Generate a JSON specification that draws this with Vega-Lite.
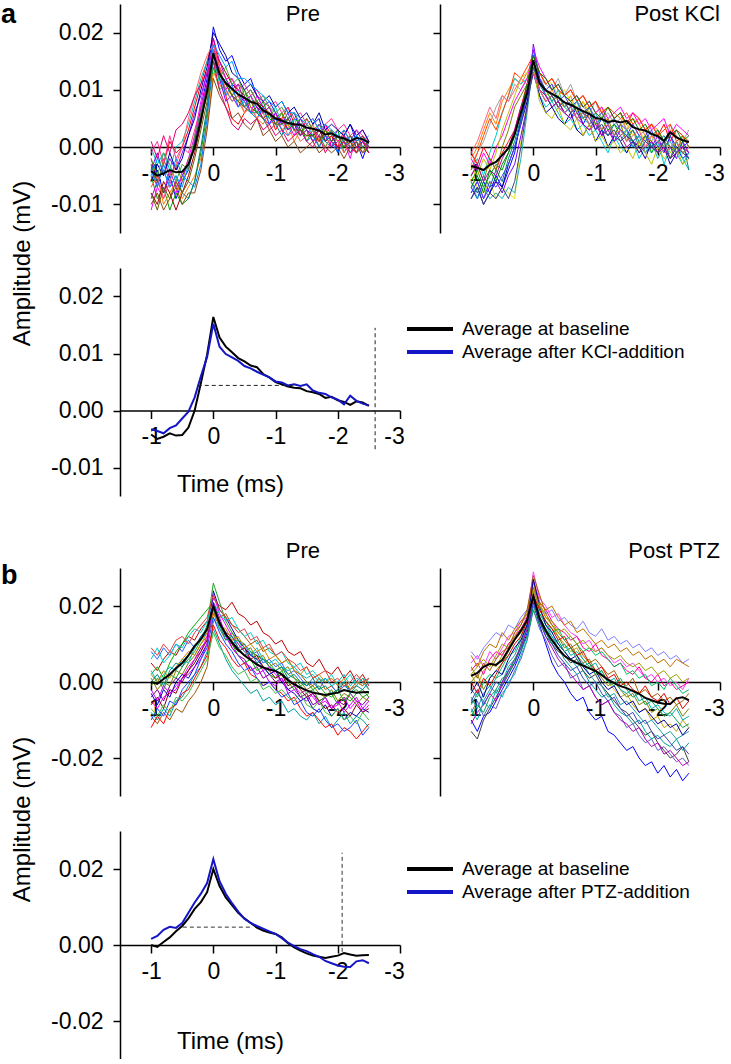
{
"$schema":"https://vega.github.io/schema/vega-lite/v6.json",
"background":"white",
"padding":{"left":0,"top":0,"right":0,"bottom":0},
"columns":2,
"spacing":{"row":35,"column":40},
"bounds":"flush",
"align":"each",
"resolve":{"scale":{"color":"independent"},"legend":{"color":"independent"}},
"config":{"font":"Liberation Sans","view":{"stroke":null},
"axis":{"domainColor":"#000","domainWidth":1.5,"tickColor":"#000","tickWidth":1.5,"labelColor":"#000","labelFontSize":23,"labelFont":"Liberation Sans","titleColor":"#000","titleFont":"Liberation Sans","titleFontWeight":"normal","grid":false},
"text":{"color":"#000"}},
"datasets":{
"A":[
{"x":-1,"p1":-0.002,"p2":-0.006,"p3":-0.005,"p4":-0.011,"p5":0,"p6":-0.007,"p7":-0.003,"p8":-0.004,"p9":-0.008,"p10":-0.003,"p11":-0.001,"p12":-0.006,"p13":-0.009,"p14":-0.004,"p15":-0.007,"p16":-0.002,"p17":-0.010,"p18":-0.005,"p19":0.001,"p20":-0.008,"pa":-0.0042,"q1":-0.002,"q2":-0.007,"q3":-0.005,"q4":-0.004,"q5":-0.006,"q6":-0.003,"q7":-0.001,"q8":-0.008,"q9":-0.005,"q10":-0.009,"q11":-0.002,"q12":-0.006,"q13":-0.004,"q14":-0.008,"q15":-0.006,"q16":-0.003,"q17":-0.005,"q18":-0.007,"q19":-0.001,"q20":-0.009,"qa":-0.0033},
{"x":-0.9,"p1":-0.006,"p2":-0.004,"p3":-0.009,"p4":-0.007,"p5":-0.003,"p6":-0.005,"p7":-0.007,"p8":-0.001,"p9":-0.010,"p10":-0.006,"p11":0.001,"p12":-0.003,"p13":-0.006,"p14":-0.007,"p15":-0.005,"p16":-0.005,"p17":-0.008,"p18":-0.002,"p19":-0.002,"p20":-0.011,"pa":-0.0050,"q1":0,"q2":-0.009,"q3":-0.007,"q4":-0.002,"q5":-0.004,"q6":-0.001,"q7":-0.003,"q8":-0.006,"q9":-0.003,"q10":-0.007,"q11":-0.004,"q12":-0.008,"q13":-0.001,"q14":-0.006,"q15":-0.009,"q16":-0.005,"q17":-0.003,"q18":-0.005,"q19":0.001,"q20":-0.007,"qa":-0.0036},
{"x":-0.8,"p1":-0.003,"p2":-0.008,"p3":-0.007,"p4":-0.009,"p5":-0.001,"p6":-0.010,"p7":-0.002,"p8":-0.005,"p9":-0.006,"p10":-0.004,"p11":-0.003,"p12":-0.005,"p13":-0.008,"p14":-0.003,"p15":-0.009,"p16":-0.001,"p17":-0.011,"p18":-0.004,"p19":0.002,"p20":-0.007,"pa":-0.0046,"q1":0.003,"q2":-0.006,"q3":-0.008,"q4":-0.005,"q5":-0.007,"q6":0.001,"q7":0,"q8":-0.009,"q9":-0.006,"q10":-0.010,"q11":-0.001,"q12":-0.005,"q13":0.002,"q14":-0.009,"q15":-0.007,"q16":-0.002,"q17":-0.006,"q18":-0.008,"q19":0.004,"q20":-0.010,"qa":-0.0040},
{"x":-0.7,"p1":0.001,"p2":-0.005,"p3":-0.011,"p4":-0.006,"p5":-0.004,"p6":-0.008,"p7":-0.005,"p8":-0.002,"p9":-0.008,"p10":-0.007,"p11":0.002,"p12":-0.001,"p13":-0.004,"p14":-0.006,"p15":-0.006,"p16":-0.003,"p17":-0.009,"p18":-0.007,"p19":-0.001,"p20":-0.009,"pa":-0.0040,"q1":0.006,"q2":-0.008,"q3":-0.006,"q4":-0.001,"q5":-0.005,"q6":0.004,"q7":-0.002,"q8":-0.007,"q9":-0.002,"q10":-0.008,"q11":-0.003,"q12":-0.007,"q13":0.005,"q14":-0.006,"q15":-0.009,"q16":-0.004,"q17":-0.004,"q18":-0.004,"q19":0.007,"q20":-0.008,"qa":-0.0031},
{"x":-0.6,"p1":-0.001,"p2":-0.009,"p3":-0.008,"p4":-0.008,"p5":0,"p6":-0.006,"p7":-0.003,"p8":-0.004,"p9":-0.011,"p10":-0.005,"p11":-0.002,"p12":-0.004,"p13":-0.007,"p14":-0.002,"p15":-0.003,"p16":-0.006,"p17":-0.007,"p18":-0.005,"p19":0.003,"p20":-0.006,"pa":-0.0044,"q1":0.004,"q2":-0.005,"q3":-0.009,"q4":0.002,"q5":-0.003,"q6":0.007,"q7":-0.004,"q8":-0.006,"q9":-0.004,"q10":-0.006,"q11":0,"q12":-0.004,"q13":0.003,"q14":-0.007,"q15":-0.008,"q16":-0.001,"q17":-0.005,"q18":-0.006,"q19":0.005,"q20":-0.009,"qa":-0.0026},
{"x":-0.5,"p1":0,"p2":-0.006,"p3":-0.010,"p4":-0.005,"p5":0.001,"p6":-0.009,"p7":-0.006,"p8":-0.001,"p9":-0.008,"p10":-0.008,"p11":0,"p12":-0.002,"p13":-0.005,"p14":-0.005,"p15":0,"p16":-0.003,"p17":-0.010,"p18":-0.007,"p19":0.004,"p20":-0.008,"pa":-0.0043,"q1":0.008,"q2":-0.007,"q3":-0.007,"q4":0.006,"q5":-0.004,"q6":0.009,"q7":-0.001,"q8":-0.008,"q9":0,"q10":-0.007,"q11":0.002,"q12":-0.006,"q13":0.006,"q14":-0.005,"q15":-0.009,"q16":0.003,"q17":-0.002,"q18":-0.003,"q19":0.009,"q20":-0.007,"qa":-0.0014},
{"x":-0.4,"p1":0.003,"p2":-0.004,"p3":-0.009,"p4":-0.002,"p5":0.004,"p6":-0.007,"p7":-0.002,"p8":0.002,"p9":-0.005,"p10":-0.009,"p11":-0.001,"p12":0.002,"p13":-0.003,"p14":-0.006,"p15":0.005,"p16":-0.004,"p17":-0.008,"p18":-0.003,"p19":0.006,"p20":-0.006,"pa":-0.0030,"q1":0.010,"q2":-0.004,"q3":-0.008,"q4":0.009,"q5":-0.001,"q6":0.008,"q7":0.001,"q8":-0.005,"q9":0.003,"q10":-0.003,"q11":0.005,"q12":-0.002,"q13":0.009,"q14":-0.003,"q15":-0.007,"q16":0.006,"q17":0,"q18":-0.001,"q19":0.008,"q20":-0.009,"qa":-0.0002},
{"x":-0.3,"p1":0.007,"p2":0.001,"p3":-0.006,"p4":0.002,"p5":0.008,"p6":-0.005,"p7":0,"p8":0.006,"p9":-0.001,"p10":-0.006,"p11":0.003,"p12":0.005,"p13":0.001,"p14":-0.007,"p15":0.009,"p16":0.002,"p17":-0.008,"p18":0,"p19":0.009,"p20":-0.002,"pa":0.0000,"q1":0.012,"q2":-0.001,"q3":-0.009,"q4":0.012,"q5":0.002,"q6":0.011,"q7":0.003,"q8":-0.003,"q9":0.007,"q10":0,"q11":0.008,"q12":0.001,"q13":0.013,"q14":0,"q15":-0.008,"q16":0.009,"q17":0.003,"q18":0.002,"q19":0.010,"q20":-0.006,"qa":0.0023},
{"x":-0.2,"p1":0.011,"p2":0.007,"p3":-0.001,"p4":0.008,"p5":0.012,"p6":-0.002,"p7":0.005,"p8":0.009,"p9":0.004,"p10":0,"p11":0.007,"p12":0.010,"p13":0.006,"p14":-0.003,"p15":0.013,"p16":0.006,"p17":-0.004,"p18":0.005,"p19":0.011,"p20":0.003,"pa":0.0048,"q1":0.011,"q2":0.005,"q3":0.001,"q4":0.011,"q5":0.006,"q6":0.010,"q7":0.007,"q8":0.002,"q9":0.009,"q10":0.004,"q11":0.010,"q12":0.005,"q13":0.012,"q14":0.004,"q15":-0.002,"q16":0.012,"q17":0.007,"q18":0.006,"q19":0.012,"q20":0,"qa":0.0060},
{"x":-0.1,"p1":0.015,"p2":0.012,"p3":0.006,"p4":0.013,"p5":0.015,"p6":0.004,"p7":0.009,"p8":0.013,"p9":0.010,"p10":0.007,"p11":0.011,"p12":0.014,"p13":0.011,"p14":0.005,"p15":0.016,"p16":0.010,"p17":0.003,"p18":0.010,"p19":0.013,"p20":0.008,"pa":0.0098,"q1":0.013,"q2":0.009,"q3":0.008,"q4":0.012,"q5":0.010,"q6":0.012,"q7":0.011,"q8":0.007,"q9":0.011,"q10":0.008,"q11":0.012,"q12":0.010,"q13":0.014,"q14":0.009,"q15":0.006,"q16":0.013,"q17":0.010,"q18":0.011,"q19":0.011,"q20":0.007,"qa":0.0094},
{"x":0,"p1":0.019,"p2":0.021,"p3":0.014,"p4":0.018,"p5":0.017,"p6":0.013,"p7":0.015,"p8":0.016,"p9":0.017,"p10":0.015,"p11":0.017,"p12":0.020,"p13":0.019,"p14":0.016,"p15":0.018,"p16":0.014,"p17":0.012,"p18":0.018,"p19":0.015,"p20":0.016,"pa":0.0164,"q1":0.015,"q2":0.014,"q3":0.016,"q4":0.014,"q5":0.015,"q6":0.014,"q7":0.016,"q8":0.018,"q9":0.015,"q10":0.013,"q11":0.017,"q12":0.015,"q13":0.016,"q14":0.017,"q15":0.015,"q16":0.014,"q17":0.013,"q18":0.016,"q19":0.013,"q20":0.014,"qa":0.0152},
{"x":0.1,"p1":0.014,"p2":0.017,"p3":0.010,"p4":0.013,"p5":0.011,"p6":0.011,"p7":0.013,"p8":0.012,"p9":0.015,"p10":0.012,"p11":0.014,"p12":0.018,"p13":0.015,"p14":0.013,"p15":0.014,"p16":0.012,"p17":0.009,"p18":0.016,"p19":0.010,"p20":0.013,"pa":0.0128,"q1":0.011,"q2":0.010,"q3":0.013,"q4":0.009,"q5":0.012,"q6":0.012,"q7":0.013,"q8":0.012,"q9":0.010,"q10":0.009,"q11":0.014,"q12":0.011,"q13":0.013,"q14":0.012,"q15":0.011,"q16":0.008,"q17":0.010,"q18":0.013,"q19":0.010,"q20":0.011,"qa":0.0112},
{"x":0.2,"p1":0.009,"p2":0.015,"p3":0.011,"p4":0.010,"p5":0.012,"p6":0.009,"p7":0.011,"p8":0.008,"p9":0.013,"p10":0.010,"p11":0.012,"p12":0.016,"p13":0.012,"p14":0.009,"p15":0.010,"p16":0.014,"p17":0.007,"p18":0.014,"p19":0.007,"p20":0.011,"pa":0.0112,"q1":0.009,"q2":0.008,"q3":0.012,"q4":0.007,"q5":0.010,"q6":0.011,"q7":0.011,"q8":0.009,"q9":0.008,"q10":0.006,"q11":0.012,"q12":0.009,"q13":0.011,"q14":0.010,"q15":0.009,"q16":0.006,"q17":0.009,"q18":0.012,"q19":0.008,"q20":0.010,"qa":0.0099},
{"x":0.3,"p1":0.005,"p2":0.016,"p3":0.009,"p4":0.012,"p5":0.009,"p6":0.010,"p7":0.009,"p8":0.009,"p9":0.011,"p10":0.008,"p11":0.012,"p12":0.013,"p13":0.010,"p14":0.011,"p15":0.008,"p16":0.011,"p17":0.005,"p18":0.015,"p19":0.004,"p20":0.009,"pa":0.0102,"q1":0.010,"q2":0.009,"q3":0.011,"q4":0.008,"q5":0.008,"q6":0.010,"q7":0.012,"q8":0.007,"q9":0.009,"q10":0.007,"q11":0.010,"q12":0.007,"q13":0.012,"q14":0.011,"q15":0.008,"q16":0.005,"q17":0.007,"q18":0.010,"q19":0.009,"q20":0.009,"qa":0.0093},
{"x":0.4,"p1":0.004,"p2":0.013,"p3":0.008,"p4":0.009,"p5":0.010,"p6":0.008,"p7":0.011,"p8":0.007,"p9":0.010,"p10":0.009,"p11":0.010,"p12":0.012,"p13":0.011,"p14":0.007,"p15":0.009,"p16":0.012,"p17":0.006,"p18":0.012,"p19":0.003,"p20":0.008,"pa":0.0092,"q1":0.008,"q2":0.007,"q3":0.009,"q4":0.006,"q5":0.009,"q6":0.012,"q7":0.010,"q8":0.008,"q9":0.007,"q10":0.005,"q11":0.011,"q12":0.008,"q13":0.010,"q14":0.008,"q15":0.010,"q16":0.007,"q17":0.008,"q18":0.011,"q19":0.007,"q20":0.007,"qa":0.0087},
{"x":0.5,"p1":0.006,"p2":0.011,"p3":0.010,"p4":0.008,"p5":0.007,"p6":0.006,"p7":0.010,"p8":0.009,"p9":0.009,"p10":0.007,"p11":0.011,"p12":0.010,"p13":0.008,"p14":0.008,"p15":0.006,"p16":0.009,"p17":0.004,"p18":0.012,"p19":0.005,"p20":0.007,"pa":0.0086,"q1":0.007,"q2":0.006,"q3":0.010,"q4":0.004,"q5":0.007,"q6":0.009,"q7":0.009,"q8":0.006,"q9":0.008,"q10":0.004,"q11":0.009,"q12":0.006,"q13":0.009,"q14":0.009,"q15":0.007,"q16":0.004,"q17":0.006,"q18":0.009,"q19":0.006,"q20":0.008,"qa":0.0078},
{"x":0.6,"p1":0.008,"p2":0.012,"p3":0.007,"p4":0.006,"p5":0.009,"p6":0.007,"p7":0.008,"p8":0.006,"p9":0.010,"p10":0.006,"p11":0.009,"p12":0.011,"p13":0.009,"p14":0.006,"p15":0.007,"p16":0.010,"p17":0.003,"p18":0.011,"p19":0.004,"p20":0.008,"pa":0.0079,"q1":0.009,"q2":0.005,"q3":0.008,"q4":0.005,"q5":0.008,"q6":0.011,"q7":0.010,"q8":0.007,"q9":0.006,"q10":0.006,"q11":0.008,"q12":0.007,"q13":0.010,"q14":0.007,"q15":0.006,"q16":0.003,"q17":0.005,"q18":0.008,"q19":0.007,"q20":0.006,"qa":0.0074},
{"x":0.7,"p1":0.007,"p2":0.009,"p3":0.006,"p4":0.009,"p5":0.006,"p6":0.005,"p7":0.008,"p8":0.007,"p9":0.008,"p10":0.006,"p11":0.010,"p12":0.009,"p13":0.007,"p14":0.005,"p15":0.005,"p16":0.008,"p17":0.005,"p18":0.010,"p19":0.005,"p20":0.006,"pa":0.0076,"q1":0.006,"q2":0.007,"q3":0.007,"q4":0.003,"q5":0.006,"q6":0.008,"q7":0.008,"q8":0.005,"q9":0.007,"q10":0.003,"q11":0.009,"q12":0.005,"q13":0.008,"q14":0.008,"q15":0.008,"q16":0.005,"q17":0.006,"q18":0.009,"q19":0.005,"q20":0.007,"qa":0.0068},
{"x":0.8,"p1":0.005,"p2":0.007,"p3":0.008,"p4":0.007,"p5":0.006,"p6":0.004,"p7":0.006,"p8":0.005,"p9":0.007,"p10":0.005,"p11":0.008,"p12":0.008,"p13":0.006,"p14":0.007,"p15":0.006,"p16":0.009,"p17":0.002,"p18":0.009,"p19":0.003,"p20":0.005,"pa":0.0064,"q1":0.008,"q2":0.004,"q3":0.008,"q4":0.004,"q5":0.005,"q6":0.007,"q7":0.009,"q8":0.004,"q9":0.005,"q10":0.002,"q11":0.007,"q12":0.006,"q13":0.009,"q14":0.006,"q15":0.005,"q16":0.002,"q17":0.004,"q18":0.007,"q19":0.006,"q20":0.006,"qa":0.0063},
{"x":0.9,"p1":0.006,"p2":0.008,"p3":0.005,"p4":0.004,"p5":0.005,"p6":0.006,"p7":0.007,"p8":0.004,"p9":0.006,"p10":0.003,"p11":0.007,"p12":0.009,"p13":0.007,"p14":0.004,"p15":0.003,"p16":0.007,"p17":0.003,"p18":0.008,"p19":0.004,"p20":0.006,"pa":0.0058,"q1":0.005,"q2":0.006,"q3":0.006,"q4":0.002,"q5":0.007,"q6":0.006,"q7":0.007,"q8":0.003,"q9":0.006,"q10":0.004,"q11":0.008,"q12":0.004,"q13":0.007,"q14":0.007,"q15":0.004,"q16":0.004,"q17":0.003,"q18":0.008,"q19":0.004,"q20":0.005,"qa":0.0058},
{"x":1,"p1":0.003,"p2":0.006,"p3":0.004,"p4":0.006,"p5":0.007,"p6":0.005,"p7":0.005,"p8":0.006,"p9":0.005,"p10":0.004,"p11":0.008,"p12":0.007,"p13":0.004,"p14":0.005,"p15":0.004,"p16":0.006,"p17":0.001,"p18":0.007,"p19":0.002,"p20":0.004,"pa":0.0050,"q1":0.006,"q2":0.003,"q3":0.005,"q4":0.003,"q5":0.004,"q6":0.008,"q7":0.008,"q8":0.005,"q9":0.004,"q10":0.001,"q11":0.006,"q12":0.005,"q13":0.008,"q14":0.005,"q15":0.006,"q16":0.001,"q17":0.004,"q18":0.006,"q19":0.005,"q20":0.003,"qa":0.0051},
{"x":1.1,"p1":0.005,"p2":0.004,"p3":0.006,"p4":0.003,"p5":0.004,"p6":0.003,"p7":0.006,"p8":0.004,"p9":0.005,"p10":0.002,"p11":0.006,"p12":0.008,"p13":0.005,"p14":0.003,"p15":0.005,"p16":0.007,"p17":0.002,"p18":0.008,"p19":0.003,"p20":0.004,"pa":0.0046,"q1":0.007,"q2":0.005,"q3":0.006,"q4":0.001,"q5":0.005,"q6":0.005,"q7":0.006,"q8":0.002,"q9":0.003,"q10":0.003,"q11":0.007,"q12":0.003,"q13":0.006,"q14":0.006,"q15":0.003,"q16":0.002,"q17":0.002,"q18":0.005,"q19":0.003,"q20":0.004,"qa":0.0049},
{"x":1.2,"p1":0.007,"p2":0.005,"p3":0.003,"p4":0.004,"p5":0.003,"p6":0.004,"p7":0.004,"p8":0.006,"p9":0.003,"p10":0.005,"p11":0.007,"p12":0.006,"p13":0.003,"p14":0.002,"p15":0.002,"p16":0.005,"p17":0,"p18":0.006,"p19":0.001,"p20":0.005,"pa":0.0042,"q1":0.004,"q2":0.004,"q3":0.004,"q4":-0.001,"q5":0.003,"q6":0.006,"q7":0.007,"q8":0.004,"q9":0.005,"q10":0,"q11":0.005,"q12":0.002,"q13":0.007,"q14":0.004,"q15":0.004,"q16":0,"q17":0.003,"q18":0.007,"q19":0.004,"q20":0.002,"qa":0.0044},
{"x":1.3,"p1":0.004,"p2":0.006,"p3":0.005,"p4":0.002,"p5":0.005,"p6":0.001,"p7":0.004,"p8":0.003,"p9":0.004,"p10":0.003,"p11":0.005,"p12":0.007,"p13":0.004,"p14":0.004,"p15":0.003,"p16":0.006,"p17":0.001,"p18":0.006,"p19":0.002,"p20":0.003,"pa":0.0040,"q1":0.005,"q2":0.002,"q3":0.005,"q4":0.002,"q5":0.004,"q6":0.004,"q7":0.005,"q8":0.001,"q9":0.002,"q10":0.002,"q11":0.006,"q12":0.004,"q13":0.006,"q14":0.005,"q15":0.002,"q16":0.001,"q17":0.001,"q18":0.005,"q19":0.002,"q20":0.003,"qa":0.0046},
{"x":1.4,"p1":0.002,"p2":0.003,"p3":0.004,"p4":0.005,"p5":0.002,"p6":0.003,"p7":0.002,"p8":0.005,"p9":0.003,"p10":0.002,"p11":0.006,"p12":0.005,"p13":0.002,"p14":0.003,"p15":0.001,"p16":0.004,"p17":-0.001,"p18":0.005,"p19":0.003,"p20":0.003,"pa":0.0039,"q1":0.006,"q2":0.004,"q3":0.003,"q4":0,"q5":0.002,"q6":0.005,"q7":0.006,"q8":0.003,"q9":0.004,"q10":0.001,"q11":0.007,"q12":0.003,"q13":0.005,"q14":0.003,"q15":0.001,"q16":-0.001,"q17":0.002,"q18":0.006,"q19":0.003,"q20":0.001,"qa":0.0043},
{"x":1.5,"p1":0.005,"p2":0.002,"p3":0.001,"p4":0.003,"p5":0.004,"p6":0.002,"p7":0.004,"p8":0.003,"p9":0.002,"p10":0.003,"p11":0.004,"p12":0.006,"p13":0.003,"p14":0.001,"p15":0.002,"p16":0.005,"p17":0,"p18":0.004,"p19":0.001,"p20":0.002,"pa":0.0034,"q1":0.003,"q2":0.003,"q3":0.004,"q4":-0.001,"q5":0.003,"q6":0.003,"q7":0.004,"q8":0.002,"q9":0.001,"q10":-0.001,"q11":0.005,"q12":0.002,"q13":0.006,"q14":0.002,"q15":0.003,"q16":0,"q17":0,"q18":0.004,"q19":0.001,"q20":0.002,"qa":0.0046},
{"x":1.6,"p1":0.003,"p2":0.004,"p3":0.003,"p4":0.001,"p5":0.002,"p6":0.004,"p7":0.003,"p8":0.002,"p9":0.002,"p10":0.001,"p11":0.005,"p12":0.004,"p13":0.001,"p14":0.002,"p15":0.003,"p16":0.003,"p17":0.001,"p18":0.005,"p19":0,"p20":0.002,"pa":0.0032,"q1":0.005,"q2":0.001,"q3":0.002,"q4":0.001,"q5":0.001,"q6":0.004,"q7":0.006,"q8":0,"q9":0.003,"q10":0.001,"q11":0.006,"q12":0.003,"q13":0.004,"q14":0.004,"q15":0,"q16":-0.002,"q17":0.001,"q18":0.005,"q19":0.002,"q20":0.001,"qa":0.0035},
{"x":1.7,"p1":0.001,"p2":0.005,"p3":0.002,"p4":0.002,"p5":0.003,"p6":0.001,"p7":0,"p8":0.004,"p9":0.003,"p10":0.002,"p11":0.003,"p12":0.006,"p13":0.003,"p14":0,"p15":0.001,"p16":0.004,"p17":-0.001,"p18":0.003,"p19":0.002,"p20":0.001,"pa":0.0029,"q1":0.004,"q2":0.002,"q3":0.003,"q4":-0.002,"q5":0,"q6":0.002,"q7":0.005,"q8":0.001,"q9":0,"q10":0,"q11":0.004,"q12":0.001,"q13":0.005,"q14":0.002,"q15":0.002,"q16":0.001,"q17":-0.001,"q18":0.003,"q19":0.003,"q20":-0.001,"qa":0.0031},
{"x":1.8,"p1":0.004,"p2":0.001,"p3":0,"p4":0.004,"p5":0.001,"p6":0.002,"p7":0.003,"p8":0.002,"p9":0.001,"p10":0.001,"p11":0.004,"p12":0.003,"p13":0.002,"p14":0.002,"p15":0,"p16":0.002,"p17":0,"p18":0.004,"p19":-0.001,"p20":0.003,"pa":0.0022,"q1":0.002,"q2":0.003,"q3":0.001,"q4":0,"q5":0.002,"q6":0.003,"q7":0.003,"q8":-0.001,"q9":0.002,"q10":-0.002,"q11":0.005,"q12":0.002,"q13":0.003,"q14":0.001,"q15":-0.001,"q16":-0.001,"q17":0,"q18":0.004,"q19":0,"q20":0.001,"qa":0.0029},
{"x":1.9,"p1":0.002,"p2":0.003,"p3":0.002,"p4":0,"p5":0.003,"p6":0.003,"p7":0.001,"p8":0.001,"p9":0.002,"p10":0,"p11":0.005,"p12":0.004,"p13":0,"p14":0.001,"p15":0.002,"p16":0.003,"p17":-0.001,"p18":0.003,"p19":0.001,"p20":0.001,"pa":0.0024,"q1":0.004,"q2":0,"q3":0.002,"q4":-0.001,"q5":-0.001,"q6":0.001,"q7":0.004,"q8":0,"q9":0.001,"q10":0.001,"q11":0.003,"q12":0,"q13":0.004,"q14":0.003,"q15":0.001,"q16":-0.003,"q17":0.001,"q18":0.002,"q19":0.002,"q20":0,"qa":0.0023},
{"x":2,"p1":0,"p2":-0.001,"p3":0.003,"p4":0.002,"p5":0.001,"p6":0.001,"p7":0.002,"p8":0.003,"p9":0,"p10":0.002,"p11":0.003,"p12":0.003,"p13":0.001,"p14":-0.001,"p15":0.001,"p16":0.002,"p17":0,"p18":0.002,"p19":0,"p20":0.002,"pa":0.0018,"q1":0.003,"q2":0.001,"q3":0,"q4":0.001,"q5":0.001,"q6":0.003,"q7":0.002,"q8":0.002,"q9":-0.001,"q10":-0.001,"q11":0.004,"q12":0.001,"q13":0.002,"q14":0,"q15":-0.002,"q16":0,"q17":-0.001,"q18":0.003,"q19":0.001,"q20":-0.001,"qa":0.0019},
{"x":2.1,"p1":0.003,"p2":0.002,"p3":-0.001,"p4":0.001,"p5":0,"p6":0.002,"p7":0,"p8":0.002,"p9":0.001,"p10":0.001,"p11":0.004,"p12":0.002,"p13":0.002,"p14":0.001,"p15":-0.001,"p16":0.001,"p17":-0.002,"p18":0.003,"p19":0.001,"p20":0,"pa":0.0015,"q1":0.001,"q2":-0.001,"q3":0.001,"q4":-0.003,"q5":0,"q6":0,"q7":0.004,"q8":-0.001,"q9":0.001,"q10":0,"q11":0.005,"q12":0.002,"q13":0.003,"q14":0.001,"q15":0,"q16":-0.002,"q17":0,"q18":0.001,"q19":-0.001,"q20":0.001,"qa":0.0011},
{"x":2.2,"p1":0.001,"p2":0.004,"p3":0.001,"p4":-0.002,"p5":0.002,"p6":0,"p7":0.002,"p8":0.001,"p9":0.002,"p10":-0.001,"p11":0.002,"p12":0.004,"p13":0,"p14":0,"p15":0.001,"p16":0.002,"p17":0,"p18":0.001,"p19":-0.001,"p20":0.001,"pa":0.0010,"q1":0.003,"q2":0.002,"q3":-0.001,"q4":0,"q5":-0.002,"q6":0.004,"q7":0.001,"q8":0,"q9":0,"q10":-0.003,"q11":0.002,"q12":0,"q13":0.004,"q14":0.002,"q15":0.001,"q16":-0.001,"q17":-0.002,"q18":0.002,"q19":0,"q20":-0.002,"qa":0.0026},
{"x":2.3,"p1":-0.001,"p2":0.001,"p3":0.002,"p4":0.002,"p5":0,"p6":-0.001,"p7":0.001,"p8":0.003,"p9":0,"p10":0.001,"p11":0.003,"p12":0.002,"p13":-0.001,"p14":0.002,"p15":0,"p16":0.001,"p17":0.001,"p18":0.002,"p19":0,"p20":-0.001,"pa":0.0016,"q1":0.002,"q2":0,"q3":0.001,"q4":0.001,"q5":0.001,"q6":0.002,"q7":0.003,"q8":-0.002,"q9":-0.001,"q10":-0.001,"q11":0.004,"q12":-0.001,"q13":0.001,"q14":-0.001,"q15":-0.001,"q16":0,"q17":-0.001,"q18":0.003,"q19":0.001,"q20":0,"qa":0.0017},
{"x":2.4,"p1":0.002,"p2":-0.002,"p3":0,"p4":0.003,"p5":0.001,"p6":0.001,"p7":-0.001,"p8":0.001,"p9":0.001,"p10":0.002,"p11":0.002,"p12":0.003,"p13":0.001,"p14":0,"p15":-0.001,"p16":0,"p17":-0.001,"p18":0.001,"p19":0.001,"p20":0,"pa":0.0014,"q1":0,"q2":-0.002,"q3":-0.001,"q4":-0.002,"q5":-0.001,"q6":0.001,"q7":0.002,"q8":0.001,"q9":0.002,"q10":0,"q11":0.003,"q12":0.001,"q13":0.002,"q14":0,"q15":-0.003,"q16":-0.003,"q17":0,"q18":0.001,"q19":-0.001,"q20":-0.001,"qa":0.0012},
{"x":2.5,"p1":0,"p2":0.001,"p3":-0.001,"p4":0.001,"p5":0.002,"p6":0,"p7":0.001,"p8":0,"p9":-0.001,"p10":0,"p11":0.001,"p12":0.001,"p13":0,"p14":0.001,"p15":0,"p16":0.001,"p17":0,"p18":0.001,"p19":-0.001,"p20":0.001,"pa":0.0008,"q1":0.001,"q2":-0.001,"q3":0,"q4":-0.004,"q5":0,"q6":0.003,"q7":0,"q8":-0.001,"q9":0,"q10":-0.002,"q11":0.002,"q12":-0.004,"q13":0.001,"q14":0.001,"q15":-0.001,"q16":-0.002,"q17":-0.001,"q18":0.002,"q19":0,"q20":-0.002,"qa":0.0009}
],
"B":[
{"x":-1,"r1":0.005,"r2":-0.008,"r3":-0.004,"r4":0.002,"r5":-0.009,"r6":0.008,"r7":-0.012,"r8":0.001,"r9":-0.005,"r10":0.003,"r11":-0.003,"r12":-0.001,"r13":-0.006,"r14":0.006,"r15":-0.010,"r16":0.002,"r17":-0.002,"r18":0.009,"r19":-0.007,"r20":0,"ra":0.0000,"s1":0.008,"s2":-0.010,"s3":0.002,"s4":-0.004,"s5":0.005,"s6":-0.013,"s7":0,"s8":-0.006,"s9":0.003,"s10":-0.008,"s11":0.004,"s12":-0.002,"s13":-0.011,"s14":0.007,"s15":-0.003,"s16":-0.007,"s17":0.002,"s18":-0.005,"s19":0,"s20":-0.009,"sa":0.0016},
{"x":-0.9,"r1":0.003,"r2":-0.010,"r3":-0.002,"r4":0.004,"r5":-0.011,"r6":0.006,"r7":-0.009,"r8":-0.002,"r9":-0.007,"r10":0,"r11":-0.006,"r12":0.001,"r13":-0.004,"r14":0.009,"r15":-0.007,"r16":0,"r17":-0.005,"r18":0.007,"r19":-0.009,"r20":0.002,"ra":-0.0005,"s1":0.006,"s2":-0.013,"s3":-0.001,"s4":-0.007,"s5":0.007,"s6":-0.015,"s7":0.002,"s8":-0.003,"s9":0.005,"s10":-0.005,"s11":0.001,"s12":-0.004,"s13":-0.008,"s14":0.004,"s15":0,"s16":-0.010,"s17":0.004,"s18":-0.002,"s19":-0.003,"s20":-0.006,"sa":0.0024},
{"x":-0.8,"r1":0.006,"r2":-0.007,"r3":-0.005,"r4":0.001,"r5":-0.008,"r6":0.009,"r7":-0.011,"r8":0,"r9":-0.004,"r10":0.002,"r11":-0.002,"r12":-0.002,"r13":-0.007,"r14":0.005,"r15":-0.009,"r16":0.003,"r17":-0.001,"r18":0.010,"r19":-0.006,"r20":-0.001,"ra":0.0008,"s1":0.009,"s2":-0.009,"s3":0.003,"s4":-0.003,"s5":0.004,"s6":-0.010,"s7":-0.002,"s8":-0.005,"s9":0.002,"s10":-0.009,"s11":0.005,"s12":0,"s13":-0.006,"s14":0.008,"s15":-0.004,"s16":-0.005,"s17":0.006,"s18":-0.006,"s19":0.001,"s20":-0.008,"sa":0.0040},
{"x":-0.7,"r1":0.008,"r2":-0.009,"r3":-0.001,"r4":0.005,"r5":-0.010,"r6":0.007,"r7":-0.007,"r8":-0.001,"r9":-0.003,"r10":0.004,"r11":-0.004,"r12":0.002,"r13":-0.002,"r14":0.007,"r15":-0.005,"r16":0.001,"r17":-0.003,"r18":0.008,"r19":-0.008,"r20":0.003,"ra":0.0020,"s1":0.011,"s2":-0.008,"s3":0.005,"s4":-0.001,"s5":0.008,"s6":-0.007,"s7":0.001,"s8":-0.002,"s9":0.006,"s10":-0.006,"s11":0.003,"s12":0.002,"s13":-0.003,"s14":0.010,"s15":0.001,"s16":-0.007,"s17":0.004,"s18":-0.003,"s19":-0.001,"s20":-0.004,"sa":0.0048},
{"x":-0.6,"r1":0.007,"r2":-0.005,"r3":0.001,"r4":0.008,"r5":-0.007,"r6":0.010,"r7":-0.006,"r8":0.003,"r9":-0.001,"r10":0.003,"r11":0,"r12":0.001,"r13":-0.003,"r14":0.010,"r15":-0.006,"r16":0.004,"r17":-0.002,"r18":0.011,"r19":-0.004,"r20":0.005,"ra":0.0036,"s1":0.013,"s2":-0.005,"s3":0.004,"s4":-0.003,"s5":0.006,"s6":-0.004,"s7":0.003,"s8":0.001,"s9":0.008,"s10":-0.007,"s11":0.006,"s12":0.001,"s13":-0.005,"s14":0.009,"s15":0.003,"s16":-0.002,"s17":0.007,"s18":0,"s19":0.002,"s20":-0.002,"sa":0.0045},
{"x":-0.5,"r1":0.010,"r2":-0.004,"r3":0,"r4":0.010,"r5":-0.008,"r6":0.008,"r7":-0.003,"r8":0.002,"r9":0.001,"r10":0.006,"r11":0.002,"r12":0.004,"r13":0.001,"r14":0.009,"r15":-0.002,"r16":0.006,"r17":0.001,"r18":0.012,"r19":-0.005,"r20":0.004,"ra":0.0050,"s1":0.012,"s2":-0.002,"s3":0.007,"s4":0,"s5":0.009,"s6":-0.001,"s7":0.005,"s8":0.002,"s9":0.007,"s10":-0.003,"s11":0.008,"s12":0.004,"s13":0,"s14":0.013,"s15":0.002,"s16":-0.004,"s17":0.010,"s18":-0.001,"s19":0.005,"s20":0.001,"sa":0.0058},
{"x":-0.4,"r1":0.012,"r2":-0.001,"r3":0.003,"r4":0.013,"r5":-0.005,"r6":0.011,"r7":-0.002,"r8":0.005,"r9":0.004,"r10":0.005,"r11":0.001,"r12":0.006,"r13":0.003,"r14":0.012,"r15":0,"r16":0.008,"r17":0.002,"r18":0.010,"r19":-0.003,"r20":0.007,"ra":0.0070,"s1":0.015,"s2":0.001,"s3":0.010,"s4":0.004,"s5":0.012,"s6":0.002,"s7":0.008,"s8":0.005,"s9":0.010,"s10":-0.001,"s11":0.009,"s12":0.007,"s13":0.003,"s14":0.011,"s15":0.006,"s16":0,"s17":0.009,"s18":0.003,"s19":0.007,"s20":0.002,"sa":0.0085},
{"x":-0.3,"r1":0.011,"r2":0.002,"r3":0.006,"r4":0.015,"r5":-0.003,"r6":0.009,"r7":0.001,"r8":0.007,"r9":0.006,"r10":0.009,"r11":0.004,"r12":0.008,"r13":0.005,"r14":0.014,"r15":0.002,"r16":0.007,"r17":0.004,"r18":0.013,"r19":0,"r20":0.009,"ra":0.0095,"s1":0.014,"s2":0.004,"s3":0.012,"s4":0.006,"s5":0.013,"s6":0.005,"s7":0.011,"s8":0.007,"s9":0.012,"s10":0.003,"s11":0.013,"s12":0.008,"s13":0.006,"s14":0.014,"s15":0.009,"s16":0.002,"s17":0.012,"s18":0.005,"s19":0.010,"s20":0.006,"sa":0.0112},
{"x":-0.2,"r1":0.014,"r2":0.004,"r3":0.009,"r4":0.017,"r5":0,"r6":0.012,"r7":0.004,"r8":0.010,"r9":0.008,"r10":0.011,"r11":0.007,"r12":0.011,"r13":0.008,"r14":0.013,"r15":0.006,"r16":0.010,"r17":0.006,"r18":0.015,"r19":0.003,"r20":0.012,"ra":0.0113,"s1":0.017,"s2":0.008,"s3":0.015,"s4":0.009,"s5":0.016,"s6":0.010,"s7":0.013,"s8":0.011,"s9":0.014,"s10":0.006,"s11":0.015,"s12":0.012,"s13":0.009,"s14":0.016,"s15":0.011,"s16":0.007,"s17":0.013,"s18":0.009,"s19":0.012,"s20":0.008,"sa":0.0135},
{"x":-0.1,"r1":0.016,"r2":0.008,"r3":0.011,"r4":0.019,"r5":0.004,"r6":0.014,"r7":0.007,"r8":0.012,"r9":0.012,"r10":0.013,"r11":0.010,"r12":0.015,"r13":0.011,"r14":0.016,"r15":0.009,"r16":0.013,"r17":0.010,"r18":0.017,"r19":0.006,"r20":0.014,"ra":0.0139,"s1":0.019,"s2":0.013,"s3":0.018,"s4":0.014,"s5":0.017,"s6":0.015,"s7":0.016,"s8":0.014,"s9":0.017,"s10":0.011,"s11":0.019,"s12":0.015,"s13":0.014,"s14":0.018,"s15":0.015,"s16":0.011,"s17":0.016,"s18":0.012,"s19":0.016,"s20":0.012,"sa":0.0163},
{"x":0,"r1":0.022,"r2":0.014,"r3":0.018,"r4":0.021,"r5":0.016,"r6":0.019,"r7":0.015,"r8":0.019,"r9":0.023,"r10":0.017,"r11":0.024,"r12":0.026,"r13":0.020,"r14":0.021,"r15":0.017,"r16":0.018,"r17":0.021,"r18":0.023,"r19":0.013,"r20":0.020,"ra":0.0200,"s1":0.024,"s2":0.021,"s3":0.026,"s4":0.022,"s5":0.029,"s6":0.020,"s7":0.025,"s8":0.023,"s9":0.027,"s10":0.019,"s11":0.028,"s12":0.022,"s13":0.022,"s14":0.025,"s15":0.027,"s16":0.020,"s17":0.024,"s18":0.021,"s19":0.023,"s20":0.019,"sa":0.0226},
{"x":0.1,"r1":0.020,"r2":0.010,"r3":0.015,"r4":0.016,"r5":0.017,"r6":0.015,"r7":0.011,"r8":0.014,"r9":0.018,"r10":0.014,"r11":0.019,"r12":0.021,"r13":0.016,"r14":0.018,"r15":0.013,"r16":0.015,"r17":0.017,"r18":0.019,"r19":0.009,"r20":0.015,"ra":0.0155,"s1":0.020,"s2":0.015,"s3":0.021,"s4":0.017,"s5":0.022,"s6":0.016,"s7":0.019,"s8":0.018,"s9":0.021,"s10":0.014,"s11":0.023,"s12":0.018,"s13":0.016,"s14":0.021,"s15":0.020,"s16":0.017,"s17":0.020,"s18":0.016,"s19":0.019,"s20":0.015,"sa":0.0168},
{"x":0.2,"r1":0.019,"r2":0.006,"r3":0.013,"r4":0.012,"r5":0.018,"r6":0.013,"r7":0.009,"r8":0.011,"r9":0.015,"r10":0.012,"r11":0.017,"r12":0.016,"r13":0.013,"r14":0.016,"r15":0.010,"r16":0.014,"r17":0.012,"r18":0.017,"r19":0.007,"r20":0.011,"ra":0.0125,"s1":0.018,"s2":0.010,"s3":0.017,"s4":0.014,"s5":0.020,"s6":0.013,"s7":0.016,"s8":0.015,"s9":0.019,"s10":0.011,"s11":0.018,"s12":0.016,"s13":0.012,"s14":0.019,"s15":0.015,"s16":0.014,"s17":0.017,"s18":0.012,"s19":0.016,"s20":0.013,"sa":0.0135},
{"x":0.3,"r1":0.021,"r2":0.003,"r3":0.009,"r4":0.010,"r5":0.015,"r6":0.012,"r7":0.006,"r8":0.013,"r9":0.012,"r10":0.010,"r11":0.014,"r12":0.013,"r13":0.010,"r14":0.017,"r15":0.008,"r16":0.011,"r17":0.009,"r18":0.015,"r19":0.004,"r20":0.012,"ra":0.0105,"s1":0.019,"s2":0.005,"s3":0.015,"s4":0.011,"s5":0.017,"s6":0.010,"s7":0.014,"s8":0.012,"s9":0.016,"s10":0.007,"s11":0.015,"s12":0.013,"s13":0.009,"s14":0.020,"s15":0.013,"s16":0.012,"s17":0.016,"s18":0.010,"s19":0.014,"s20":0.010,"sa":0.0110},
{"x":0.4,"r1":0.018,"r2":0.001,"r3":0.007,"r4":0.007,"r5":0.014,"r6":0.009,"r7":0.004,"r8":0.010,"r9":0.010,"r10":0.011,"r11":0.011,"r12":0.011,"r13":0.008,"r14":0.014,"r15":0.005,"r16":0.012,"r17":0.007,"r18":0.013,"r19":0.002,"r20":0.009,"ra":0.0085,"s1":0.016,"s2":0.002,"s3":0.012,"s4":0.009,"s5":0.018,"s6":0.008,"s7":0.012,"s8":0.010,"s9":0.014,"s10":0.004,"s11":0.013,"s12":0.014,"s13":0.006,"s14":0.017,"s15":0.010,"s16":0.009,"s17":0.013,"s18":0.007,"s19":0.011,"s20":0.011,"sa":0.0088},
{"x":0.5,"r1":0.017,"r2":-0.001,"r3":0.006,"r4":0.005,"r5":0.012,"r6":0.010,"r7":0.005,"r8":0.008,"r9":0.008,"r10":0.008,"r11":0.009,"r12":0.010,"r13":0.009,"r14":0.012,"r15":0.003,"r16":0.009,"r17":0.005,"r18":0.014,"r19":0.003,"r20":0.007,"ra":0.0070,"s1":0.017,"s2":0,"s3":0.010,"s4":0.006,"s5":0.015,"s6":0.007,"s7":0.009,"s8":0.008,"s9":0.013,"s10":0.005,"s11":0.011,"s12":0.011,"s13":0.004,"s14":0.015,"s15":0.008,"s16":0.010,"s17":0.014,"s18":0.005,"s19":0.012,"s20":0.008,"sa":0.0069},
{"x":0.6,"r1":0.015,"r2":-0.003,"r3":0.003,"r4":0.006,"r5":0.010,"r6":0.007,"r7":0.002,"r8":0.009,"r9":0.006,"r10":0.007,"r11":0.007,"r12":0.008,"r13":0.006,"r14":0.013,"r15":0.004,"r16":0.010,"r17":0.004,"r18":0.011,"r19":0,"r20":0.008,"ra":0.0058,"s1":0.015,"s2":-0.003,"s3":0.008,"s4":0.004,"s5":0.013,"s6":0.005,"s7":0.010,"s8":0.006,"s9":0.011,"s10":0.001,"s11":0.009,"s12":0.012,"s13":0.002,"s14":0.016,"s15":0.006,"s16":0.007,"s17":0.012,"s18":0.003,"s19":0.009,"s20":0.009,"sa":0.0058},
{"x":0.7,"r1":0.016,"r2":-0.002,"r3":0.004,"r4":0.003,"r5":0.011,"r6":0.008,"r7":0.001,"r8":0.006,"r9":0.005,"r10":0.009,"r11":0.006,"r12":0.007,"r13":0.007,"r14":0.010,"r15":0.001,"r16":0.008,"r17":0.002,"r18":0.012,"r19":0.001,"r20":0.005,"ra":0.0046,"s1":0.014,"s2":-0.005,"s3":0.009,"s4":0.002,"s5":0.012,"s6":0.006,"s7":0.007,"s8":0.004,"s9":0.012,"s10":0.002,"s11":0.010,"s12":0.010,"s13":0,"s14":0.013,"s15":0.007,"s16":0.008,"s17":0.010,"s18":0.004,"s19":0.007,"s20":0.006,"sa":0.0050},
{"x":0.8,"r1":0.013,"r2":-0.005,"r3":0.001,"r4":0.004,"r5":0.008,"r6":0.005,"r7":-0.001,"r8":0.007,"r9":0.003,"r10":0.006,"r11":0.004,"r12":0.006,"r13":0.004,"r14":0.011,"r15":-0.001,"r16":0.009,"r17":0.003,"r18":0.009,"r19":-0.002,"r20":0.006,"ra":0.0038,"s1":0.016,"s2":-0.004,"s3":0.006,"s4":0.003,"s5":0.010,"s6":0.003,"s7":0.005,"s8":0.005,"s9":0.009,"s10":-0.002,"s11":0.007,"s12":0.008,"s13":-0.002,"s14":0.014,"s15":0.004,"s16":0.006,"s17":0.011,"s18":0.001,"s19":0.008,"s20":0.004,"sa":0.0043},
{"x":0.9,"r1":0.012,"r2":-0.004,"r3":0.002,"r4":0.002,"r5":0.009,"r6":0.006,"r7":0,"r8":0.004,"r9":0.004,"r10":0.005,"r11":0.002,"r12":0.005,"r13":0.003,"r14":0.008,"r15":0,"r16":0.006,"r17":0,"r18":0.010,"r19":-0.001,"r20":0.004,"ra":0.0033,"s1":0.013,"s2":-0.008,"s3":0.004,"s4":0,"s5":0.011,"s6":0.001,"s7":0.006,"s8":0.002,"s9":0.008,"s10":-0.001,"s11":0.005,"s12":0.009,"s13":-0.001,"s14":0.012,"s15":0.002,"s16":0.004,"s17":0.009,"s18":-0.001,"s19":0.005,"s20":0.005,"sa":0.0036},
{"x":1,"r1":0.010,"r2":-0.006,"r3":0,"r4":0.001,"r5":0.007,"r6":0.004,"r7":-0.002,"r8":0.005,"r9":0.002,"r10":0.006,"r11":0.003,"r12":0.003,"r13":0.001,"r14":0.007,"r15":-0.002,"r16":0.007,"r17":-0.001,"r18":0.007,"r19":-0.003,"r20":0.003,"ra":0.0029,"s1":0.012,"s2":-0.010,"s3":0.002,"s4":-0.002,"s5":0.008,"s6":0.002,"s7":0.003,"s8":0,"s9":0.010,"s10":-0.004,"s11":0.006,"s12":0.007,"s13":-0.004,"s14":0.010,"s15":0.003,"s16":0.005,"s17":0.008,"s18":0,"s19":0.003,"s20":0.002,"sa":0.0029},
{"x":1.1,"r1":0.011,"r2":-0.005,"r3":0.001,"r4":0.003,"r5":0.005,"r6":0.005,"r7":-0.003,"r8":0.003,"r9":0,"r10":0.004,"r11":0,"r12":0.004,"r13":0.002,"r14":0.008,"r15":-0.004,"r16":0.005,"r17":0.001,"r18":0.008,"r19":-0.002,"r20":0.004,"ra":0.0020,"s1":0.014,"s2":-0.009,"s3":0.003,"s4":-0.004,"s5":0.009,"s6":-0.001,"s7":0.001,"s8":-0.001,"s9":0.007,"s10":-0.006,"s11":0.004,"s12":0.008,"s13":-0.006,"s14":0.011,"s15":0,"s16":0.002,"s17":0.009,"s18":-0.003,"s19":0.004,"s20":0.003,"sa":0.0018},
{"x":1.2,"r1":0.008,"r2":-0.008,"r3":-0.002,"r4":0,"r5":0.006,"r6":0.002,"r7":-0.005,"r8":0.004,"r9":0.001,"r10":0.003,"r11":-0.002,"r12":0.002,"r13":-0.001,"r14":0.005,"r15":-0.003,"r16":0.006,"r17":-0.003,"r18":0.006,"r19":-0.004,"r20":0.001,"ra":0.0005,"s1":0.011,"s2":-0.013,"s3":0,"s4":-0.003,"s5":0.007,"s6":-0.003,"s7":-0.001,"s8":-0.004,"s9":0.006,"s10":-0.005,"s11":0.002,"s12":0.006,"s13":-0.005,"s14":0.009,"s15":-0.002,"s16":0,"s17":0.007,"s18":-0.005,"s19":0.001,"s20":0,"sa":0.0006},
{"x":1.3,"r1":0.007,"r2":-0.007,"r3":-0.001,"r4":-0.002,"r5":0.003,"r6":0.003,"r7":-0.004,"r8":0.001,"r9":-0.001,"r10":0.004,"r11":-0.003,"r12":0.001,"r13":0,"r14":0.004,"r15":-0.006,"r16":0.003,"r17":-0.002,"r18":0.005,"r19":-0.005,"r20":0.002,"ra":-0.0006,"s1":0.012,"s2":-0.014,"s3":-0.002,"s4":-0.006,"s5":0.005,"s6":-0.005,"s7":0,"s8":-0.003,"s9":0.004,"s10":-0.008,"s11":0.003,"s12":0.004,"s13":-0.008,"s14":0.010,"s15":-0.001,"s16":0.001,"s17":0.006,"s18":-0.004,"s19":0.002,"s20":-0.001,"sa":-0.0003},
{"x":1.4,"r1":0.008,"r2":-0.009,"r3":-0.004,"r4":-0.001,"r5":0.002,"r6":0.001,"r7":-0.007,"r8":0,"r9":-0.003,"r10":0.002,"r11":-0.005,"r12":-0.001,"r13":-0.002,"r14":0.005,"r15":-0.005,"r16":0.002,"r17":-0.004,"r18":0.003,"r19":-0.003,"r20":0,"ra":-0.0015,"s1":0.010,"s2":-0.016,"s3":-0.004,"s4":-0.008,"s5":0.006,"s6":-0.007,"s7":-0.002,"s8":-0.006,"s9":0.005,"s10":-0.009,"s11":0,"s12":0.005,"s13":-0.010,"s14":0.008,"s15":-0.004,"s16":-0.002,"s17":0.007,"s18":-0.007,"s19":-0.001,"s20":0.001,"sa":-0.0011},
{"x":1.5,"r1":0.005,"r2":-0.010,"r3":-0.003,"r4":-0.003,"r5":0,"r6":-0.001,"r7":-0.009,"r8":-0.002,"r9":-0.002,"r10":0.001,"r11":-0.004,"r12":0,"r13":-0.004,"r14":0.002,"r15":-0.008,"r16":0.004,"r17":-0.005,"r18":0.004,"r19":-0.006,"r20":-0.001,"ra":-0.0022,"s1":0.011,"s2":-0.018,"s3":-0.003,"s4":-0.009,"s5":0.004,"s6":-0.008,"s7":-0.004,"s8":-0.005,"s9":0.003,"s10":-0.012,"s11":-0.001,"s12":0.002,"s13":-0.011,"s14":0.009,"s15":-0.006,"s16":-0.003,"s17":0.005,"s18":-0.009,"s19":0,"s20":-0.002,"sa":-0.0016},
{"x":1.6,"r1":0.004,"r2":-0.008,"r3":-0.006,"r4":-0.002,"r5":-0.001,"r6":0,"r7":-0.008,"r8":-0.001,"r9":-0.004,"r10":0.002,"r11":-0.007,"r12":-0.002,"r13":-0.003,"r14":0.003,"r15":-0.009,"r16":0.001,"r17":-0.003,"r18":0.001,"r19":-0.007,"r20":0.001,"ra":-0.0028,"s1":0.009,"s2":-0.017,"s3":-0.006,"s4":-0.011,"s5":0.005,"s6":-0.010,"s7":-0.003,"s8":-0.007,"s9":0.002,"s10":-0.011,"s11":0.001,"s12":0.003,"s13":-0.013,"s14":0.007,"s15":-0.005,"s16":-0.002,"s17":0.004,"s18":-0.008,"s19":-0.002,"s20":-0.004,"sa":-0.0024},
{"x":1.7,"r1":0.006,"r2":-0.011,"r3":-0.005,"r4":-0.005,"r5":0.001,"r6":-0.002,"r7":-0.010,"r8":-0.003,"r9":-0.006,"r10":0,"r11":-0.008,"r12":-0.001,"r13":-0.005,"r14":0.001,"r15":-0.007,"r16":0.002,"r17":-0.006,"r18":0.002,"r19":-0.005,"r20":-0.002,"ra":-0.0031,"s1":0.010,"s2":-0.020,"s3":-0.008,"s4":-0.010,"s5":0.003,"s6":-0.012,"s7":-0.006,"s8":-0.009,"s9":0.004,"s10":-0.014,"s11":-0.003,"s12":0.001,"s13":-0.012,"s14":0.008,"s15":-0.008,"s16":-0.005,"s17":0.005,"s18":-0.011,"s19":-0.003,"s20":-0.003,"sa":-0.0031},
{"x":1.8,"r1":0.003,"r2":-0.009,"r3":-0.004,"r4":-0.004,"r5":-0.002,"r6":0.001,"r7":-0.012,"r8":-0.004,"r9":-0.005,"r10":0.001,"r11":-0.006,"r12":-0.003,"r13":-0.007,"r14":0,"r15":-0.010,"r16":0,"r17":-0.004,"r18":0.003,"r19":-0.008,"r20":-0.001,"ra":-0.0034,"s1":0.008,"s2":-0.022,"s3":-0.007,"s4":-0.013,"s5":0.001,"s6":-0.014,"s7":-0.005,"s8":-0.011,"s9":0.001,"s10":-0.016,"s11":-0.002,"s12":0.002,"s13":-0.015,"s14":0.006,"s15":-0.007,"s16":-0.004,"s17":0.003,"s18":-0.010,"s19":-0.001,"s20":-0.006,"sa":-0.0042},
{"x":1.9,"r1":0.002,"r2":-0.012,"r3":-0.007,"r4":-0.003,"r5":-0.001,"r6":-0.001,"r7":-0.011,"r8":-0.002,"r9":-0.007,"r10":-0.001,"r11":-0.009,"r12":-0.004,"r13":-0.006,"r14":0.002,"r15":-0.012,"r16":0.001,"r17":-0.007,"r18":0,"r19":-0.009,"r20":-0.003,"ra":-0.0031,"s1":0.009,"s2":-0.021,"s3":-0.010,"s4":-0.015,"s5":0.002,"s6":-0.013,"s7":-0.008,"s8":-0.010,"s9":0,"s10":-0.015,"s11":-0.004,"s12":-0.001,"s13":-0.017,"s14":0.007,"s15":-0.009,"s16":-0.007,"s17":0.004,"s18":-0.013,"s19":-0.004,"s20":-0.005,"sa":-0.0048},
{"x":2,"r1":0.004,"r2":-0.010,"r3":-0.005,"r4":-0.006,"r5":-0.003,"r6":-0.003,"r7":-0.014,"r8":-0.005,"r9":-0.006,"r10":0,"r11":-0.007,"r12":-0.002,"r13":-0.008,"r14":-0.001,"r15":-0.011,"r16":-0.001,"r17":-0.005,"r18":0.001,"r19":-0.007,"r20":-0.002,"ra":-0.0028,"s1":0.007,"s2":-0.024,"s3":-0.009,"s4":-0.014,"s5":0,"s6":-0.016,"s7":-0.007,"s8":-0.012,"s9":0.002,"s10":-0.018,"s11":-0.003,"s12":0,"s13":-0.016,"s14":0.005,"s15":-0.011,"s16":-0.006,"s17":0.002,"s18":-0.015,"s19":-0.005,"s20":-0.007,"sa":-0.0054},
{"x":2.1,"r1":0.001,"r2":-0.008,"r3":-0.006,"r4":-0.004,"r5":0,"r6":-0.001,"r7":-0.012,"r8":-0.003,"r9":-0.004,"r10":0.002,"r11":-0.010,"r12":-0.005,"r13":-0.007,"r14":0,"r15":-0.013,"r16":0.001,"r17":-0.008,"r18":-0.001,"r19":-0.010,"r20":0,"ra":-0.0021,"s1":0.008,"s2":-0.022,"s3":-0.012,"s4":-0.016,"s5":0.001,"s6":-0.018,"s7":-0.009,"s8":-0.014,"s9":-0.001,"s10":-0.017,"s11":-0.005,"s12":-0.002,"s13":-0.019,"s14":0.006,"s15":-0.010,"s16":-0.008,"s17":0.003,"s18":-0.014,"s19":-0.003,"s20":-0.009,"sa":-0.0057},
{"x":2.2,"r1":0.003,"r2":-0.011,"r3":-0.003,"r4":-0.005,"r5":-0.002,"r6":-0.002,"r7":-0.013,"r8":-0.004,"r9":-0.007,"r10":-0.001,"r11":-0.008,"r12":-0.003,"r13":-0.009,"r14":0.002,"r15":-0.012,"r16":-0.002,"r17":-0.006,"r18":0,"r19":-0.009,"r20":-0.003,"ra":-0.0025,"s1":0.006,"s2":-0.025,"s3":-0.011,"s4":-0.017,"s5":-0.001,"s6":-0.020,"s7":-0.008,"s8":-0.013,"s9":0,"s10":-0.019,"s11":-0.004,"s12":0.001,"s13":-0.018,"s14":0.004,"s15":-0.012,"s16":-0.009,"s17":0.001,"s18":-0.016,"s19":-0.006,"s20":-0.008,"sa":-0.0058},
{"x":2.3,"r1":0,"r2":-0.009,"r3":-0.005,"r4":-0.003,"r5":-0.001,"r6":0,"r7":-0.015,"r8":-0.006,"r9":-0.005,"r10":0.001,"r11":-0.009,"r12":-0.002,"r13":-0.006,"r14":-0.001,"r15":-0.010,"r16":0,"r17":-0.004,"r18":0.002,"r19":-0.011,"r20":-0.001,"ra":-0.0028,"s1":0.007,"s2":-0.023,"s3":-0.013,"s4":-0.015,"s5":0,"s6":-0.019,"s7":-0.006,"s8":-0.015,"s9":-0.002,"s10":-0.021,"s11":-0.006,"s12":-0.001,"s13":-0.020,"s14":0.006,"s15":-0.011,"s16":-0.007,"s17":0.002,"s18":-0.018,"s19":-0.004,"s20":-0.010,"sa":-0.0043},
{"x":2.4,"r1":0.002,"r2":-0.010,"r3":-0.006,"r4":-0.002,"r5":0.001,"r6":-0.001,"r7":-0.013,"r8":-0.004,"r9":-0.008,"r10":0,"r11":-0.007,"r12":-0.004,"r13":-0.008,"r14":0.001,"r15":-0.014,"r16":-0.001,"r17":-0.007,"r18":0,"r19":-0.008,"r20":-0.002,"ra":-0.0027,"s1":0.005,"s2":-0.026,"s3":-0.010,"s4":-0.018,"s5":-0.002,"s6":-0.017,"s7":-0.009,"s8":-0.014,"s9":-0.001,"s10":-0.020,"s11":-0.005,"s12":-0.003,"s13":-0.022,"s14":0.005,"s15":-0.014,"s16":-0.010,"s17":0,"s18":-0.017,"s19":-0.007,"s20":-0.012,"sa":-0.0040},
{"x":2.5,"r1":-0.001,"r2":-0.012,"r3":-0.004,"r4":-0.004,"r5":-0.002,"r6":0.001,"r7":-0.011,"r8":-0.005,"r9":-0.006,"r10":-0.002,"r11":-0.008,"r12":-0.003,"r13":-0.007,"r14":0,"r15":-0.012,"r16":0.001,"r17":-0.005,"r18":0.001,"r19":-0.010,"r20":0,"ra":-0.0026,"s1":0.006,"s2":-0.024,"s3":-0.012,"s4":-0.016,"s5":0.001,"s6":-0.021,"s7":-0.007,"s8":-0.013,"s9":0,"s10":-0.022,"s11":-0.003,"s12":-0.002,"s13":-0.021,"s14":0.004,"s15":-0.012,"s16":-0.009,"s17":0.001,"s18":-0.019,"s19":-0.005,"s20":-0.011,"sa":-0.0048}
]
},
"concat":[
{
"width":280,"height":229,"data":{"name":"A"},
"layer":[
{"encoding":{
"x":{"field":"x","type":"quantitative","scale":{"domain":[-1.5,3],"nice":false,"zero":false},"axis":{"values":[-1,0,1,2,3],"labelExpr":"datum.value == 0 ? '0' : '-' + abs(datum.value)","labelOffset":{"condition":{"test":"datum.value == 3","value":-6},"value":0},"offset":-86,"tickSize":8,"labelPadding":7,"labelFlush":false,"labelOverlap":false,"title":null}},
"y":{"field":"value","type":"quantitative","scale":{"domain":[-0.015,0.025],"nice":false,"zero":false},"axis":{"values":[-0.01,0,0.01,0.02],"labelExpr":"(datum.value < 0 ? '-' : '') + format(abs(datum.value), '.2f')","tickSize":7,"labelPadding":10,"labelFlush":false,"title":null}}},
"layer":[
{"transform":[{"fold":["p1","p2","p3","p4","p5","p6","p7","p8","p9","p10","p11","p12","p13","p14","p15","p16","p17","p18","p19","p20"]}],"mark":{"type":"line","strokeWidth":1},"encoding":{"color":{"field":"key","type":"nominal","scale":{"domain":["p1","p2","p3","p4","p5","p6","p7","p8","p9","p10","p11","p12","p13","p14","p15","p16","p17","p18","p19","p20"],"range":["#ff0000","#0000ff","#00a000","#ff00ff","#00c0c0","#ff8000","#808000","#8000ff","#a00000","#008080","#ff3399","#000099","#c000c0","#0080ff","#ff6060","#40a040","#8b4513","#00a0ff","#e00070","#606000"]},"legend":null}}},
{"transform":[{"fold":["pa"]}],"mark":{"type":"line","strokeWidth":2,"color":"#000"}}
]},
{"transform":[{"filter":"datum.x == 0"}],"mark":{"type":"text","fontSize":22,"align":"center","baseline":"middle","color":"#000"},"encoding":{"x":{"datum":1.44},"y":{"datum":0.0233},"text":{"value":"Pre"}}},
{"transform":[{"filter":"datum.x == 0"}],"mark":{"type":"text","fontSize":27,"fontWeight":"bold","align":"left","baseline":"alphabetic","color":"#000"},"encoding":{"x":{"datum":-3.4126},"y":{"datum":0.0217},"text":{"value":"a"}}}
]
},
{
"width":280,"height":229,"data":{"name":"A"},
"layer":[
{"encoding":{
"x":{"field":"x","type":"quantitative","scale":{"domain":[-1.5,3],"nice":false,"zero":false},"axis":{"values":[-1,0,1,2,3],"labelExpr":"datum.value == 0 ? '0' : '-' + abs(datum.value)","labelOffset":{"condition":{"test":"datum.value == 3","value":-6},"value":0},"offset":-86,"tickSize":8,"labelPadding":7,"labelFlush":false,"labelOverlap":false,"title":null}},
"y":{"field":"value","type":"quantitative","scale":{"domain":[-0.015,0.025],"nice":false,"zero":false},"axis":{"values":[-0.01,0,0.01,0.02],"labels":false,"tickSize":7,"title":null}}},
"layer":[
{"transform":[{"fold":["q1","q2","q3","q4","q5","q6","q7","q8","q9","q10","q11","q12","q13","q14","q15","q16","q17","q18","q19","q20"]}],"mark":{"type":"line","strokeWidth":1},"encoding":{"color":{"field":"key","type":"nominal","scale":{"domain":["q1","q2","q3","q4","q5","q6","q7","q8","q9","q10","q11","q12","q13","q14","q15","q16","q17","q18","q19","q20"],"range":["#ff8000","#0000ff","#e6e600","#00cccc","#00a000","#a0a0a0","#ff0000","#8000ff","#808000","#000099","#ff00ff","#008080","#ff4000","#4040ff","#20b0b0","#c0c000","#b000b0","#008000","#ff6080","#404080"]},"legend":null}}},
{"transform":[{"fold":["qa"]}],"mark":{"type":"line","strokeWidth":2,"color":"#000"}}
]},
{"transform":[{"filter":"datum.x == 0"}],"mark":{"type":"text","fontSize":22,"align":"right","baseline":"middle","color":"#000"},"encoding":{"x":{"datum":3},"y":{"datum":0.0233},"text":{"value":"Post KCl"}}}
]
},
{
"width":280,"height":228,"data":{"name":"A"},
"layer":[
{"transform":[{"fold":["pa","qa"],"as":["series","value"]}],"mark":{"type":"line","strokeWidth":2},"encoding":{
"x":{"field":"x","type":"quantitative","scale":{"domain":[-1.5,3],"nice":false,"zero":false},"axis":{"values":[-1,0,1,2,3],"labelExpr":"datum.value == 0 ? '0' : '-' + abs(datum.value)","labelOffset":{"condition":{"test":"datum.value == 3","value":-6},"value":0},"offset":-85.5,"tickSize":8,"labelPadding":7,"labelFlush":false,"labelOverlap":false,"title":"Time (ms)","titleFontSize":24,"titleX":110,"titleY":73.5,"titleBaseline":"middle","titleAlign":"center"}},
"y":{"field":"value","type":"quantitative","scale":{"domain":[-0.015,0.025],"nice":false,"zero":false},"axis":{"values":[-0.01,0,0.01,0.02],"labelExpr":"(datum.value < 0 ? '-' : '') + format(abs(datum.value), '.2f')","tickSize":7,"labelPadding":10,"labelFlush":false,"title":"Amplitude (mV)","titleFontSize":24,"titleAngle":270,"titleX":-98,"titleY":-5,"titleAlign":"center","titleBaseline":"middle"}},
"color":{"field":"series","type":"nominal","scale":{"domain":["pa","qa"],"range":["#000000","#1515c8"]},"legend":{"orient":"none","legendX":285,"legendY":51,"title":null,"padding":0,"symbolType":"stroke","symbolSize":2116,"symbolStrokeWidth":4,"clipHeight":20,"rowPadding":3,"labelFontSize":19,"labelFont":"Liberation Sans","labelColor":"#000","labelOffset":7,"labelLimit":400,"labelExpr":"datum.label == 'pa' ? 'Average at baseline' : 'Average after KCl-addition'"}}}},
{"transform":[{"filter":"datum.x == 0"}],"mark":{"type":"rule","strokeDash":[4,3],"strokeWidth":1,"color":"#222"},"encoding":{"x":{"datum":2.6},"y":{"datum":-0.0068},"y2":{"datum":0.0145}}},
{"transform":[{"filter":"datum.x == 0"}],"mark":{"type":"rule","strokeDash":[4,3],"strokeWidth":1,"color":"#222"},"encoding":{"x":{"datum":-0.25},"x2":{"datum":1.3},"y":{"datum":0.0044}}}
]
},
{"width":280,"height":1,"data":{"values":[{}]},"mark":{"type":"point","opacity":0}},
{"width":280,"height":2,"data":{"values":[{}]},"mark":{"type":"point","opacity":0}},
{"width":280,"height":2,"data":{"values":[{}]},"mark":{"type":"point","opacity":0}},
{
"width":280,"height":228,"data":{"name":"B"},
"layer":[
{"encoding":{
"x":{"field":"x","type":"quantitative","scale":{"domain":[-1.5,3],"nice":false,"zero":false},"axis":{"values":[-1,0,1,2,3],"labelExpr":"datum.value == 0 ? '0' : '-' + abs(datum.value)","labelOffset":{"condition":{"test":"datum.value == 3","value":-6},"value":0},"offset":-114,"tickSize":8,"labelPadding":7,"labelFlush":false,"labelOverlap":false,"title":null}},
"y":{"field":"value","type":"quantitative","scale":{"domain":[-0.03,0.03],"nice":false,"zero":false},"axis":{"values":[-0.02,0,0.02],"labelExpr":"(datum.value < 0 ? '-' : '') + format(abs(datum.value), '.2f')","tickSize":7,"labelPadding":10,"labelFlush":false,"title":null}}},
"layer":[
{"transform":[{"fold":["r1","r2","r3","r4","r5","r6","r7","r8","r9","r10","r11","r12","r13","r14","r15","r16","r17","r18","r19","r20"]}],"mark":{"type":"line","strokeWidth":1},"encoding":{"color":{"field":"key","type":"nominal","scale":{"domain":["r1","r2","r3","r4","r5","r6","r7","r8","r9","r10","r11","r12","r13","r14","r15","r16","r17","r18","r19","r20"],"range":["#c00000","#00a0a0","#800080","#00b000","#a05000","#3060ff","#ff0000","#808000","#ff00ff","#00c0c0","#0000c0","#20a020","#8b0000","#00d0d0","#2040ff","#d08000","#c000ff","#e04040","#40c040","#008b8b"]},"legend":null}}},
{"transform":[{"fold":["ra"]}],"mark":{"type":"line","strokeWidth":2,"color":"#000"}}
]},
{"transform":[{"filter":"datum.x == 0"}],"mark":{"type":"text","fontSize":22,"align":"center","baseline":"middle","color":"#000"},"encoding":{"x":{"datum":1.44},"y":{"datum":0.0345},"text":{"value":"Pre"}}},
{"transform":[{"filter":"datum.x == 0"}],"mark":{"type":"text","fontSize":27,"fontWeight":"bold","align":"left","baseline":"alphabetic","color":"#000"},"encoding":{"x":{"datum":-3.4126},"y":{"datum":0.0258},"text":{"value":"b"}}}
]
},
{
"width":280,"height":228,"data":{"name":"B"},
"layer":[
{"encoding":{
"x":{"field":"x","type":"quantitative","scale":{"domain":[-1.5,3],"nice":false,"zero":false},"axis":{"values":[-1,0,1,2,3],"labelExpr":"datum.value == 0 ? '0' : '-' + abs(datum.value)","labelOffset":{"condition":{"test":"datum.value == 3","value":-6},"value":0},"offset":-114,"tickSize":8,"labelPadding":7,"labelFlush":false,"labelOverlap":false,"title":null}},
"y":{"field":"value","type":"quantitative","scale":{"domain":[-0.03,0.03],"nice":false,"zero":false},"axis":{"values":[-0.02,0,0.02],"labels":false,"tickSize":7,"title":null}}},
"layer":[
{"transform":[{"fold":["s1","s2","s3","s4","s5","s6","s7","s8","s9","s10","s11","s12","s13","s14","s15","s16","s17","s18","s19","s20"]}],"mark":{"type":"line","strokeWidth":1},"encoding":{"color":{"field":"key","type":"nominal","scale":{"domain":["s1","s2","s3","s4","s5","s6","s7","s8","s9","s10","s11","s12","s13","s14","s15","s16","s17","s18","s19","s20"],"range":["#8080ff","#0000ff","#c0a000","#00a0a0","#ff40ff","#404040","#808000","#20a0a0","#ff00a0","#6060c0","#a06000","#00c060","#b000b0","#c07000","#0000a0","#00b0b0","#a0a000","#4040c0","#e00000","#10a060"]},"legend":null}}},
{"transform":[{"fold":["sa"]}],"mark":{"type":"line","strokeWidth":2,"color":"#000"}}
]},
{"transform":[{"filter":"datum.x == 0"}],"mark":{"type":"text","fontSize":22,"align":"right","baseline":"middle","color":"#000"},"encoding":{"x":{"datum":3},"y":{"datum":0.0345},"text":{"value":"Post PTZ"}}}
]
},
{
"width":280,"height":228,"data":{"name":"B"},
"layer":[
{"transform":[{"fold":["ra","sa"],"as":["series","value"]}],"mark":{"type":"line","strokeWidth":2},"encoding":{
"x":{"field":"x","type":"quantitative","scale":{"domain":[-1.5,3],"nice":false,"zero":false},"axis":{"values":[-1,0,1,2,3],"labelExpr":"datum.value == 0 ? '0' : '-' + abs(datum.value)","labelOffset":{"condition":{"test":"datum.value == 3","value":-6},"value":0},"offset":-114,"tickSize":8,"labelPadding":7,"labelFlush":false,"labelOverlap":false,"title":"Time (ms)","titleFontSize":24,"titleX":110,"titleY":96,"titleBaseline":"middle","titleAlign":"center"}},
"y":{"field":"value","type":"quantitative","scale":{"domain":[-0.03,0.03],"nice":false,"zero":false},"axis":{"values":[-0.02,0,0.02],"labelExpr":"(datum.value < 0 ? '-' : '') + format(abs(datum.value), '.2f')","tickSize":7,"labelPadding":10,"labelFlush":false,"title":"Amplitude (mV)","titleFontSize":24,"titleAngle":270,"titleX":-98,"titleY":-12,"titleAlign":"center","titleBaseline":"middle"}},
"color":{"field":"series","type":"nominal","scale":{"domain":["ra","sa"],"range":["#000000","#1515c8"]},"legend":{"orient":"none","legendX":285,"legendY":28,"title":null,"padding":0,"symbolType":"stroke","symbolSize":2116,"symbolStrokeWidth":4,"clipHeight":20,"rowPadding":3,"labelFontSize":19,"labelFont":"Liberation Sans","labelColor":"#000","labelOffset":7,"labelLimit":400,"labelExpr":"datum.label == 'ra' ? 'Average at baseline' : 'Average after PTZ-addition'"}}}},
{"transform":[{"filter":"datum.x == 0"}],"mark":{"type":"rule","strokeDash":[4,3],"strokeWidth":1,"color":"#333"},"encoding":{"x":{"datum":2.07},"y":{"datum":-0.0018},"y2":{"datum":0.0243}}},
{"transform":[{"filter":"datum.x == 0"}],"mark":{"type":"rule","strokeDash":[4,3],"strokeWidth":1,"color":"#333"},"encoding":{"x":{"datum":-0.49},"x2":{"datum":0.6},"y":{"datum":0.0047}}}
]
},
{"width":280,"height":1,"data":{"values":[{}]},"mark":{"type":"point","opacity":0}}
]
}
